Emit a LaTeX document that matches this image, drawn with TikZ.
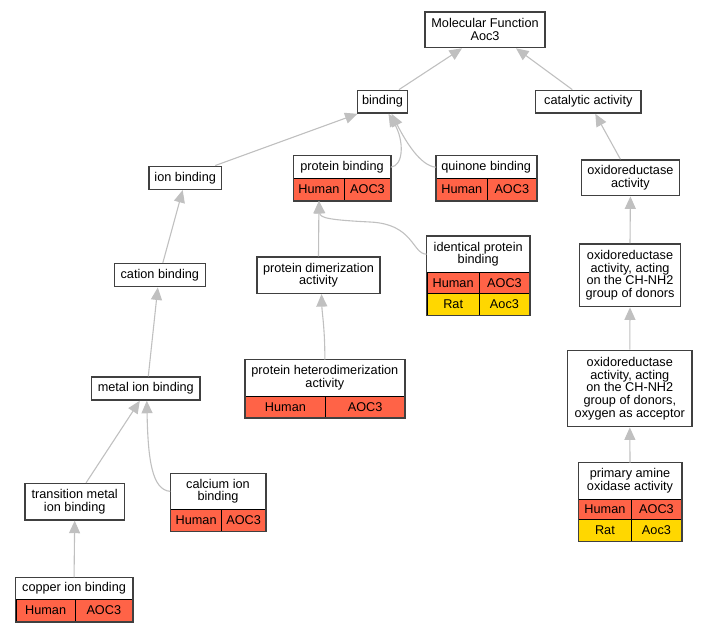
\documentclass[tikz,border=0pt]{standalone}
\usepackage{fontspec}
\setmainfont{Liberation Sans}
\usetikzlibrary{arrows.meta}
\definecolor{edgec}{HTML}{C0C0C0}
\definecolor{framec}{HTML}{404040}
\definecolor{humanc}{HTML}{FF6347}
\definecolor{ratc}{HTML}{FFD700}
\tikzset{
  lbl/.style={font=\fontsize{12.7}{12.7}\selectfont, align=center, inner sep=0pt, text=black},
  box/.style={lbl, draw=framec, line width=1.5pt, fill=white},
  head/.style={lbl, fill=white, anchor=north west},
  cellh/.style={lbl, draw=black, line width=0.9pt, fill=humanc, anchor=north west},
  cellr/.style={lbl, draw=black, line width=0.9pt, fill=ratc, anchor=north west},
  frame/.style={draw=framec, line width=1.5pt},
  edge/.style={draw=edgec, line width=1.1pt, -{Triangle[length=12.5pt,width=11pt]}},
}
\begin{document}
\begin{tikzpicture}[x=1pt,y=-1pt]
\useasboundingbox (0,0) rectangle (708,632);

% plain boxes
\node[box, minimum width=120pt, minimum height=35.5pt] (mf) at (485,29.8) {Molecular Function\\Aoc3};
\node[box, minimum width=50.4pt, minimum height=22.7pt] (binding) at (382.5,101.7) {binding};
\node[box, minimum width=105.3pt, minimum height=22.7pt] (cat) at (588.3,101.7) {catalytic activity};
\node[box, minimum width=98.2pt, minimum height=35.7pt] (oxred) at (630.4,177.8) {oxidoreductase\\activity};
\node[box, minimum width=72.3pt, minimum height=23pt] (ion) at (185.2,177.8) {ion binding};
\node[box, minimum width=91pt, minimum height=23pt] (cation) at (159.8,275.2) {cation binding};
\node[box, minimum width=123pt, minimum height=36.3pt] (pdim) at (318.5,275.2) {protein dimerization\\activity};
\node[box, minimum width=108.3pt, minimum height=23pt] (metal) at (145.8,388.5) {metal ion binding};
\node[box, minimum width=100.6pt, minimum height=62.7pt] (chnh) at (630,275.3) {oxidoreductase\\activity, acting\\on the CH-NH2\\group of donors};
\node[box, minimum width=124.3pt, minimum height=76.4pt] (oxy) at (629.8,388.5) {oxidoreductase\\activity, acting\\on the CH-NH2\\group of donors,\\oxygen as acceptor};
\node[box, minimum width=99.3pt, minimum height=36.3pt] (trans) at (74.7,501.8) {transition metal\\ion binding};

% protein binding
\node[head, minimum width=97pt, minimum height=22.6pt] (pb) at (293.3,155.7) {protein binding};
\node[cellh, minimum width=50.4pt, minimum height=21.7pt] (pbH) at (293.3,178.3) {Human};
\node[cellh, minimum width=46.6pt, minimum height=21.7pt] (pbG) at (343.7,178.3) {AOC3};
\draw[frame] (pb.north west) rectangle (pbG.south east);

% quinone binding
\node[head, minimum width=100pt, minimum height=22.6pt] (qb) at (436,155.7) {quinone binding};
\node[cellh, minimum width=50.7pt, minimum height=21.7pt] (qbH) at (436,178.3) {Human};
\node[cellh, minimum width=49.3pt, minimum height=21.7pt] (qbG) at (486.7,178.3) {AOC3};
\draw[frame] (qb.north west) rectangle (qbG.south east);

% protein heterodimerization activity
\node[head, minimum width=159.3pt, minimum height=36.3pt] (phet) at (245,359.7) {protein heterodimerization\\activity};
\node[cellh, minimum width=80pt, minimum height=21.3pt] (phetH) at (245,396) {Human};
\node[cellh, minimum width=79.3pt, minimum height=21.3pt] (phetG) at (325,396) {AOC3};
\draw[frame] (phet.north west) rectangle (phetG.south east);

% identical protein binding
\node[head, minimum width=102.6pt, minimum height=36pt] (idp) at (426.7,236) {identical protein\\binding};
\node[cellh, minimum width=52pt, minimum height=21.3pt] (idpH) at (426.7,272) {Human};
\node[cellh, minimum width=50.6pt, minimum height=21.3pt] (idpG) at (478.7,272) {AOC3};
\node[cellr, minimum width=52pt, minimum height=21.4pt] (idpR) at (426.7,293.3) {Rat};
\node[cellr, minimum width=50.6pt, minimum height=21.4pt] (idpA) at (478.7,293.3) {Aoc3};
\draw[frame] (idp.north west) rectangle (idpA.south east);

% primary amine oxidase activity
\node[head, minimum width=103pt, minimum height=36pt] (pao) at (578.3,462.7) {primary amine\\oxidase activity};
\node[cellh, minimum width=52.4pt, minimum height=20.6pt] (paoH) at (578.3,498.7) {Human};
\node[cellh, minimum width=50.6pt, minimum height=20.6pt] (paoG) at (630.7,498.7) {AOC3};
\node[cellr, minimum width=52.4pt, minimum height=21.4pt] (paoR) at (578.3,519.3) {Rat};
\node[cellr, minimum width=50.6pt, minimum height=21.4pt] (paoA) at (630.7,519.3) {Aoc3};
\draw[frame] (pao.north west) rectangle (paoA.south east);

% calcium ion binding
\node[head, minimum width=95pt, minimum height=35.7pt] (cal) at (170.3,473.3) {calcium ion\\binding};
\node[cellh, minimum width=50.7pt, minimum height=21.7pt] (calH) at (170.3,509) {Human};
\node[cellh, minimum width=44.3pt, minimum height=21.7pt] (calG) at (221,509) {AOC3};
\draw[frame] (cal.north west) rectangle (calG.south east);

% copper ion binding
\node[head, minimum width=116.3pt, minimum height=22pt] (cu) at (15.7,577.3) {copper ion binding};
\node[cellh, minimum width=59pt, minimum height=21.7pt] (cuH) at (15.7,599.3) {Human};
\node[cellh, minimum width=57.3pt, minimum height=21.7pt] (cuG) at (74.7,599.3) {AOC3};
\draw[frame] (cu.north west) rectangle (cuG.south east);

% edges
\draw[edge] ([xshift=16.5pt]binding.north) -- ([xshift=-23pt]mf.south);
\draw[edge] ([xshift=-16pt]cat.north) -- ([xshift=31pt]mf.south);
\draw[edge] ([xshift=30pt]ion.north) -- ([xshift=-25pt]binding.south);
\draw[edge] (pb.east) .. controls (404,166) and (404,140) .. ([xshift=6pt]binding.south);
\draw[edge] (qb.west) .. controls (420,166) and (405,140) .. ([xshift=9pt]binding.south);
\draw[edge] ([xshift=-10pt]oxred.north) -- ([xshift=7pt]cat.south);
\draw[edge] ([xshift=3pt]cation.north) -- ([xshift=-2.5pt]ion.south);
\draw[edge] (pdim.north) -- (pbH.south);
\draw[edge] (idp.west) .. controls (412,254) and (414,224) .. (370,222) .. controls (330,220) and (320,218) .. (pbH.south);
\draw[edge] ([xshift=2.5pt]metal.north) -- ([xshift=-2pt]cation.south);
\draw[edge] (phet.north) .. controls (325,330) and (322,312) .. ([xshift=3pt]pdim.south);
\draw[edge] ([xshift=11.3pt]trans.north) -- ([xshift=-6pt]metal.south);
\draw[edge] (cal.west) .. controls (152,490) and (148,460) .. ([xshift=1pt]metal.south);
\draw[edge] (cu.north) -- (trans.south);
\draw[edge] (chnh.north) -- (oxred.south);
\draw[edge] (oxy.north) -- (chnh.south);
\draw[edge] (pao.north) -- (oxy.south);
\end{tikzpicture}
\end{document}
